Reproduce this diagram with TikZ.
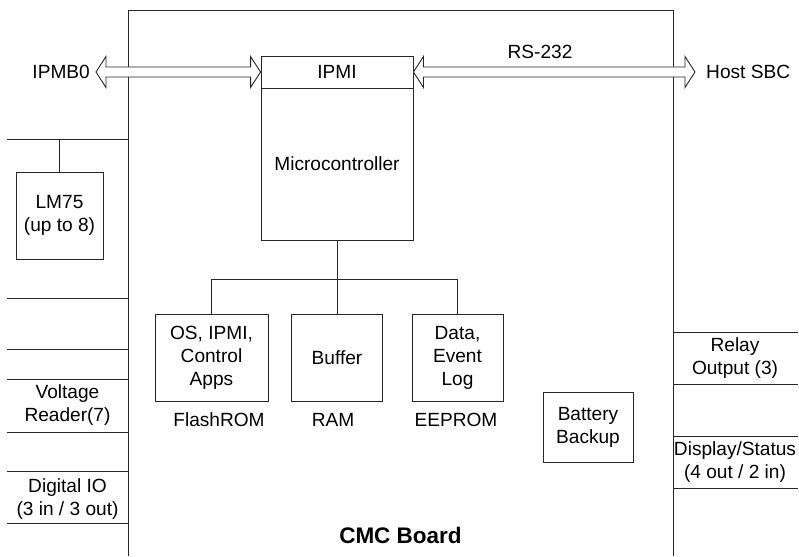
\documentclass[tikz,border=0pt]{standalone}
\usepackage{fontspec}
\setmainfont{Liberation Sans}
\usetikzlibrary{calc}
\tikzset{
  ln/.style={line width=0.9pt, draw=black!85},
  box/.style={ln, draw, rectangle, inner sep=0pt, align=center, fill=white},
  lbl/.style={inner sep=0pt, align=center},
  blk/.style={ln, fill=white, line join=miter},
}
\newcommand{\dblarrow}[2]{%
  \draw[blk] let \p1=(#1), \p2=(#2) in
   (\x1,\y1) -- (\x1+10pt,\y1+15.5pt) -- (\x1+10pt,\y1+5pt) -- (\x2-10pt,\y1+5pt)
   -- (\x2-10pt,\y1+15.5pt) -- (\x2,\y1) -- (\x2-10pt,\y1-15.5pt) -- (\x2-10pt,\y1-5pt)
   -- (\x1+10pt,\y1-5pt) -- (\x1+10pt,\y1-15.5pt) -- cycle;}
\begin{document}
\begin{tikzpicture}[x=1pt,y=-1pt,font=\fontsize{19.1}{23}\selectfont]
\useasboundingbox (0,0) rectangle (799,556);
% board outline
\draw[ln] (128,556) -- (128,10) -- (673,10) -- (673,556);
% left side lines
\foreach \yy in {139,298,349,379,432,471,523} \draw[ln] (7,\yy) -- (128,\yy);
% right side lines
\foreach \yy in {332,384,436,488} \draw[ln] (673,\yy) -- (798,\yy);
% IPMI and microcontroller
\node[box, minimum width=152, minimum height=32] (ipmi) at (337,72) {IPMI};
\node[box, minimum width=152, minimum height=152] (mc) at (337,164) {Microcontroller};
% block arrows
\coordinate (lt) at (96,72);
\coordinate (rt) at (695,72);
\dblarrow{lt}{ipmi.west}
\dblarrow{ipmi.east}{rt}
\node[lbl, anchor=east] (ipmb) at (90,72) {IPMB0};
\node[lbl, anchor=west] (host) at (706,72) {Host SBC};
\node[lbl] (rs) at (540,52) {RS-232};
% memory boxes
\node[box, minimum width=113, minimum height=87] (os) at (211.5,357.5) {OS, IPMI,\\Control\\Apps};
\node[box, minimum width=91, minimum height=87] (buf) at (337,357.5) {Buffer};
\node[box, minimum width=91, minimum height=87] (data) at (457.5,357.5) {Data,\\Event\\Log};
\coordinate (bus) at (337,279);
\draw[ln] (mc.south) -- (bus);
\draw[ln] (os.north) -- (os.north |- bus) -- (data.north |- bus) -- (data.north);
\draw[ln] (buf.north) -- (buf.north |- bus);
\node[lbl] (flash) at (219,420) {FlashROM};
\node[lbl] (ram) at (333,420) {RAM};
\node[lbl] (eeprom) at (456,420) {EEPROM};
% battery
\node[box, minimum width=90, minimum height=70] (bat) at (588,427) {Battery\\Backup};
% LM75
\node[box, minimum width=87, minimum height=87] (lm) at (59.5,215.5) {LM75\\(up to 8)};
\draw[ln] (lm.north) -- (lm.north |- 0,139);
% left labels
\node[lbl] (volt) at (67.5,405.5) {Voltage\\Reader(7)};
\node[lbl] (dio) at (67.5,499) {Digital IO\\(3 in / 3 out)};
% right labels
\node[lbl] (relay) at (735,358.5) {Relay\\Output (3)};
\node[lbl] (disp) at (735,462.5) {Display/Status\\(4 out / 2 in)};
% title
\node[lbl, font=\fontsize{22.5}{26}\selectfont\bfseries] (title) at (400.5,535) {CMC Board};
\end{tikzpicture}
\end{document}
